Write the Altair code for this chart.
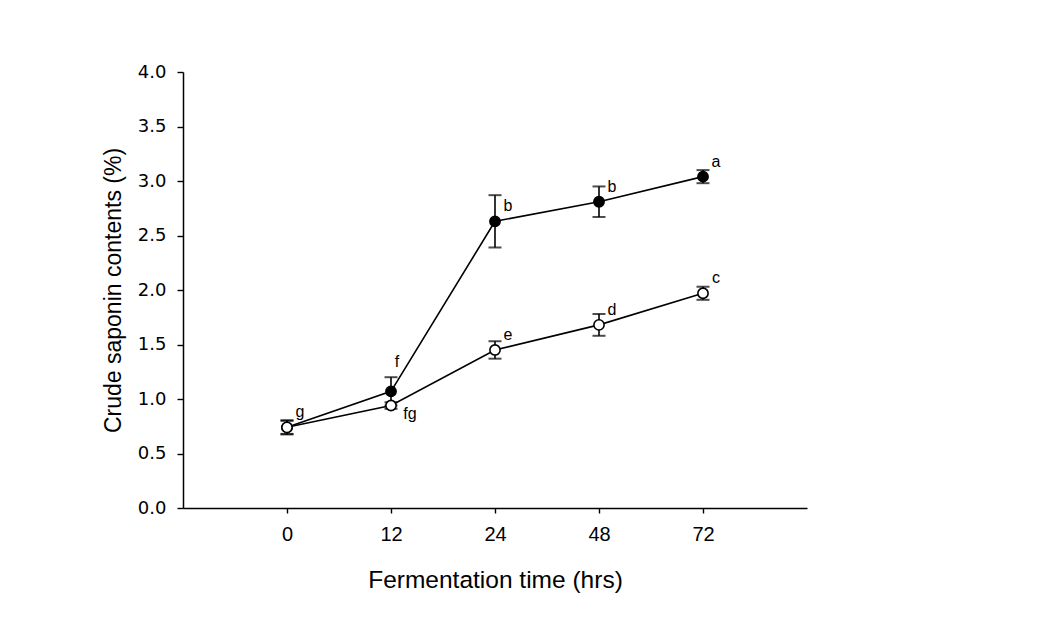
import altair as alt
import pandas as pd

# ---- data ----
hours = ["0", "12", "24", "48", "72"]
filled_mean = [0.74, 1.07, 2.63, 2.81, 3.04]
filled_err = [0.06, 0.13, 0.24, 0.14, 0.06]
filled_letters = ["", "f", "b", "b", "a"]
open_mean = [0.74, 0.94, 1.45, 1.68, 1.97]
open_err = [0.065, 0.03, 0.08, 0.10, 0.06]
open_letters = ["g", "fg", "e", "d", "c"]
y_ticks = [0.0, 0.5, 1.0, 1.5, 2.0, 2.5, 3.0, 3.5, 4.0]

rows = []
for s, means, errs, lets in [("filled", filled_mean, filled_err, filled_letters),
                             ("open", open_mean, open_err, open_letters)]:
    for i, (m, e, l) in enumerate(zip(means, errs, lets)):
        rows.append({"series": s, "idx": i, "hour": hours[i], "mean": m,
                     "lo": m - e, "hi": m + e, "letter": l})
df = pd.DataFrame(rows)

label_expr = "[" + ",".join("'%s'" % h for h in hours) + "][datum.value]"

x_enc = alt.X("idx:Q", scale=alt.Scale(domain=[-1, 5], nice=False, zero=False),
              axis=alt.Axis(values=list(range(len(hours))), labelExpr=label_expr,
                            title="Fermentation time (hrs)", grid=False,
                            tickSize=5, tickWidth=1.4, tickColor="black",
                            domainColor="black", domainWidth=1.5,
                            labelFont="Liberation Sans", labelFontSize=20,
                            labelColor="black", labelPadding=11,
                            titleFont="Liberation Sans", titleFontSize=24.5,
                            titleFontWeight="normal", titleColor="black",
                            titleY=79, titleBaseline="alphabetic"))
y_enc = alt.Y("mean:Q", scale=alt.Scale(domain=[0, 4], nice=False),
              axis=alt.Axis(values=y_ticks, format=".1f",
                            title="Crude saponin contents (%)", grid=False,
                            tickSize=6, tickWidth=1.4, tickColor="black",
                            domainColor="black", domainWidth=1.5,
                            labelFont="DejaVu Sans", labelFontSize=18,
                            labelColor="black", labelPadding=11,
                            titleFont="Liberation Sans", titleFontSize=23,
                            titleFontWeight="normal", titleColor="black",
                            titleX=-63, titleY=218, titleAlign="center",
                            titleBaseline="alphabetic", titleAngle=270))

base = alt.Chart(df)


def series_layers(name, fill):
    d = base.transform_filter(alt.datum.series == name)
    line = d.mark_line(color="black", strokeWidth=1.6).encode(x=x_enc, y=y_enc)
    bar = d.mark_rule(color="black", strokeWidth=1.6).encode(
        x="idx:Q", y="lo:Q", y2="hi:Q")
    cap_lo = d.mark_tick(color="black", orient="horizontal", size=13,
                         thickness=2).encode(x="idx:Q", y="lo:Q")
    cap_hi = d.mark_tick(color="black", orient="horizontal", size=13,
                         thickness=2).encode(x="idx:Q", y="hi:Q")
    pts = d.mark_point(shape="circle", filled=True, fill=fill, stroke="black",
                       strokeWidth=1.6, size=105, opacity=1).encode(
        x="idx:Q", y="mean:Q")
    return [line, bar, cap_lo, cap_hi, pts]


text_style = dict(font="Liberation Sans", fontSize=16, color="black",
                  align="center", baseline="middle")
lab_main = base.transform_filter(
    (alt.datum.letter != "") & (alt.datum.letter != "f") & (alt.datum.letter != "fg")
).mark_text(dx=13, dy=-15, **text_style).encode(x="idx:Q", y="mean:Q", text="letter:N")
lab_f = base.transform_filter(alt.datum.letter == "f").mark_text(
    dx=6, dy=-29, **text_style).encode(x="idx:Q", y="mean:Q", text="letter:N")
lab_fg = base.transform_filter(alt.datum.letter == "fg").mark_text(
    dx=19, dy=8, **text_style).encode(x="idx:Q", y="mean:Q", text="letter:N")

chart = alt.layer(
    *series_layers("filled", "black"),
    *series_layers("open", "white"),
    lab_main, lab_f, lab_fg,
).properties(
    width=624, height=436,
    autosize=alt.AutoSizeParams(type="none"),
    padding={"left": 175, "top": 64, "right": 230, "bottom": 95},
    background="white",
).configure_view(stroke=None)

chart.save("out.html", embed_options={"renderer": "svg", "actions": False})
